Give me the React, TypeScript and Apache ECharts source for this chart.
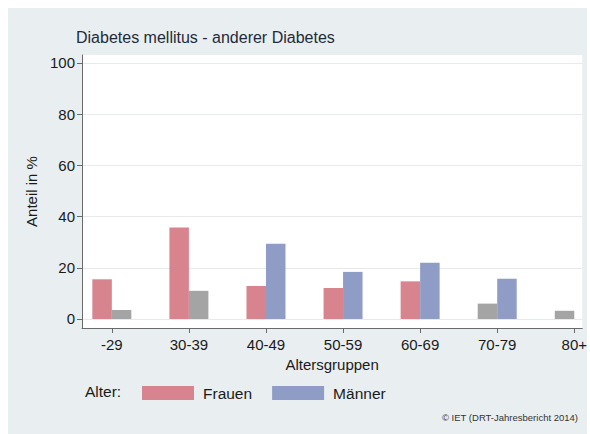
import React, { useEffect, useRef } from "react";
import * as echarts from "echarts";

const categories = ["-29", "30-39", "40-49", "50-59", "60-69", "70-79", "80+"];
const frauen = [15.5, 35.7, 12.9, 12.1, 14.7, 6.0, 3.2];
const maenner: (number | null)[] = [3.5, 11.0, 29.4, 18.4, 22.0, 15.7, null];
const frauenGray = [false, false, false, false, false, true, true];
const maennerGray = [true, true, false, false, false, false, false];
const yTicks = [0, 20, 40, 60, 80, 100];
const xTicks = [0, 1, 2, 3, 4, 5, 6];

const PINK = "#d7848f";
const BLUE = "#8f9cc6";
const GRAY = "#a4a4a4";
const BG = "#e9eff1";
const FONT = "Liberation Sans, Arial, sans-serif";

export default function App() {
  const ref = useRef<HTMLDivElement>(null);
  useEffect(() => {
    document.body.style.margin = "0";
    const chart = echarts.init(ref.current!, null, { renderer: "svg" });
    const mk = (vals: (number | null)[], gray: boolean[]) =>
      vals.map((v, i) =>
        v == null
          ? { value: [i, null] }
          : gray[i]
          ? { value: [i, v], itemStyle: { color: GRAY } }
          : { value: [i, v] }
      );
    chart.setOption({
      animation: false,
      backgroundColor: "#ffffff",
      textStyle: { fontFamily: FONT },
      graphic: [
        {
          type: "rect",
          z: -10,
          shape: { x: 8, y: 8, width: 579, height: 426 },
          style: { fill: BG },
          silent: true,
        },
        {
          type: "text",
          x: 76,
          y: 37,
          style: {
            text: "Diabetes mellitus - anderer Diabetes",
            fontSize: 16,
            fontFamily: FONT,
            fill: "#1f2a3a",
            verticalAlign: "middle",
          },
        },
        {
          type: "text",
          x: 85,
          y: 391,
          style: {
            text: "Alter:",
            fontSize: 15.5,
            fontFamily: FONT,
            fill: "#1a1a1a",
            verticalAlign: "middle",
          },
        },
        {
          type: "text",
          x: 578,
          y: 417,
          style: {
            text: "© IET (DRT-Jahresbericht 2014)",
            fontSize: 9.5,
            fontFamily: FONT,
            fill: "#333",
            align: "right",
            verticalAlign: "middle",
          },
        },
      ],
      legend: {
        left: 142,
        top: 385,
        padding: 0,
        itemWidth: 52,
        itemHeight: 14,
        itemGap: 20,
        icon: "rect",
        textStyle: { fontSize: 15.5, color: "#1a1a1a", fontFamily: FONT, padding: [0, 0, 0, 4] },
        data: ["Frauen", "Männer"],
      },
      grid: {
        left: 82,
        right: 5,
        top: 55,
        bottom: 106,
        show: true,
        backgroundColor: "#ffffff",
        borderWidth: 0,
      },
      xAxis: {
        type: "value",
        min: -0.387,
        max: 6.103,
        name: "Altersgruppen",
        nameLocation: "middle",
        nameGap: 26,
        nameTextStyle: { fontSize: 15, color: "#1a1a1a", fontFamily: FONT },
        axisLine: { show: true, onZero: false, lineStyle: { color: "#6a6a6a", width: 1 } },
        axisTick: { show: true, length: 5, customValues: xTicks, lineStyle: { color: "#6a6a6a" } },
        axisLabel: {
          customValues: xTicks,
          fontSize: 15,
          color: "#1a1a1a",
          margin: 9,
          formatter: (v: number) => categories[Math.round(v)] ?? "",
        },
        splitLine: { show: false },
      },
      yAxis: {
        type: "value",
        min: -3.52,
        max: 103.1,
        name: "Anteil in %",
        nameLocation: "middle",
        nameGap: 42,
        nameTextStyle: { fontSize: 15, color: "#1a1a1a", fontFamily: FONT },
        axisLine: { show: true, onZero: false, lineStyle: { color: "#6a6a6a", width: 1 } },
        axisTick: { show: true, length: 5, customValues: yTicks, lineStyle: { color: "#6a6a6a" } },
        axisLabel: { customValues: yTicks, fontSize: 15, color: "#1a1a1a", margin: 7 },
        splitLine: { show: true, lineStyle: { color: "#e6eaec", width: 1 } },
      },
      series: [
        {
          name: "Frauen",
          type: "bar",
          barWidth: 19.5,
          barGap: "0%",
          itemStyle: { color: PINK },
          data: mk(frauen, frauenGray),
        },
        {
          name: "Männer",
          type: "bar",
          barWidth: 19.5,
          barGap: "0%",
          itemStyle: { color: BLUE },
          data: mk(maenner, maennerGray),
        },
      ],
    });
    return () => chart.dispose();
  }, []);
  return <div ref={ref} style={{ width: 590, height: 434 }} />;
}
